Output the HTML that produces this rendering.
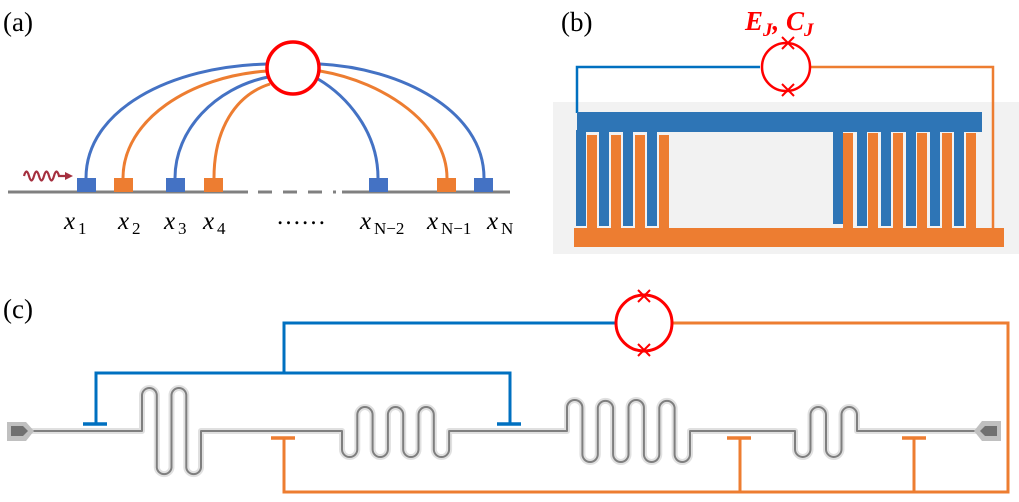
<!DOCTYPE html>
<html><head><meta charset="utf-8"><style>
html,body{margin:0;padding:0;background:#fff;}
svg{display:block;}
.lab{font-family:"Liberation Serif",serif;font-size:27px;fill:#000;}
.xv{font-family:"Liberation Serif",serif;font-style:italic;font-size:25px;fill:#000;}
.sub{font-family:"Liberation Serif",serif;font-size:17px;fill:#000;}
</style></head><body>
<svg width="1019" height="502" viewBox="0 0 1019 502" xmlns="http://www.w3.org/2000/svg">
<!-- (a) -->
<text class="lab" x="3" y="31">(a)</text>
<line x1="8" y1="192" x2="248" y2="192" stroke="#808080" stroke-width="3"/>
<line x1="258" y1="192" x2="336" y2="192" stroke="#808080" stroke-width="3" stroke-dasharray="14,11"/>
<line x1="342" y1="192" x2="510" y2="192" stroke="#808080" stroke-width="3"/>
<g fill="none" stroke-width="3">
<path d="M86,178 C86,110 170,66 268,64" stroke="#4472c4"/>
<path d="M123,178 C123,120 190,76 268,71" stroke="#ed7d31"/>
<path d="M175,178 C175,130 215,88 268,77" stroke="#4472c4"/>
<path d="M214,178 C214,130 235,95 270,84" stroke="#ed7d31"/>
<path d="M378,178 C378,130 345,95 318,79" stroke="#4472c4"/>
<path d="M447,178 C447,125 385,82 320,71" stroke="#ed7d31"/>
<path d="M484,178 C484,110 400,68 320,64" stroke="#4472c4"/>
</g>
<circle cx="293" cy="68" r="26" fill="#fff" stroke="#ff0000" stroke-width="3.5"/>
<g>
<rect x="77" y="178" width="19" height="14" fill="#4472c4"/>
<rect x="114" y="178" width="19" height="14" fill="#ed7d31"/>
<rect x="166" y="178" width="19" height="14" fill="#4472c4"/>
<rect x="204" y="178" width="19" height="14" fill="#ed7d31"/>
<rect x="369" y="178" width="19" height="14" fill="#4472c4"/>
<rect x="437" y="178" width="19" height="14" fill="#ed7d31"/>
<rect x="474" y="178" width="19" height="14" fill="#4472c4"/>
</g>
<path d="M24,176 q2.5,-9 5,0 t5,0 t5,0 t5,0 t5,0 t5,0 t5,0 h6" fill="none" stroke="#a5303f" stroke-width="2.2"/>
<polygon points="73,176 65,172 65,180" fill="#a5303f"/>
<text class="xv" x="64" y="229">x</text><text class="sub" x="78" y="234">1</text>
<text class="xv" x="118" y="229">x</text><text class="sub" x="132" y="234">2</text>
<text class="xv" x="164" y="229">x</text><text class="sub" x="178" y="234">3</text>
<text class="xv" x="203" y="229">x</text><text class="sub" x="217" y="234">4</text>
<text class="xv" x="276" y="224" style="font-style:normal">……</text>
<text class="xv" x="360" y="229">x</text><text class="sub" x="374" y="234">N−2</text>
<text class="xv" x="427" y="229">x</text><text class="sub" x="441" y="234">N−1</text>
<text class="xv" x="487" y="229">x</text><text class="sub" x="501" y="234">N</text>

<!-- (b) -->
<text class="lab" x="561" y="31">(b)</text>
<rect x="553" y="102" width="466" height="152" fill="#f2f2f2"/>
<path d="M760,67 H577 V113" fill="none" stroke="#0070c0" stroke-width="2.5"/>
<path d="M811,67 H993 V230" fill="none" stroke="#ed7d31" stroke-width="2.5"/>
<g fill="#ed7d31">
<rect x="587" y="135" width="10" height="95"/><rect x="611" y="135" width="10" height="95"/>
<rect x="635" y="135" width="10" height="95"/><rect x="659" y="135" width="10" height="95"/>
<rect x="843" y="133" width="10" height="97"/><rect x="868" y="133" width="10" height="97"/>
<rect x="893" y="133" width="10" height="97"/><rect x="917" y="133" width="10" height="97"/>
<rect x="942" y="133" width="10" height="97"/><rect x="966" y="133" width="10" height="97"/>
<rect x="574" y="228" width="430" height="19"/>
</g>
<g fill="#2e75b6">
<rect x="577" y="112" width="405" height="20"/>
<rect x="576" y="130" width="10" height="96"/><rect x="599" y="130" width="10" height="96"/>
<rect x="623" y="130" width="10" height="96"/><rect x="647" y="130" width="10" height="96"/>
<rect x="833" y="130" width="10" height="94"/><rect x="857" y="130" width="10" height="96"/>
<rect x="881" y="130" width="10" height="96"/><rect x="906" y="130" width="10" height="96"/>
<rect x="930" y="130" width="10" height="96"/><rect x="954" y="130" width="10" height="96"/>
</g>
<circle cx="786" cy="67" r="24" fill="none" stroke="#ff0000" stroke-width="2.5"/>
<path d="M782,37 l12,12 M794,37 l-12,12 M782,84 l12,12 M794,84 l-12,12" stroke="#ff0000" stroke-width="2"/>
<text x="745" y="30" style="font-family:'Liberation Serif',serif;font-weight:bold;font-style:italic;font-size:27px;fill:#ff0000">E<tspan font-size="19" dy="6">J</tspan><tspan dy="-6">, C</tspan><tspan font-size="19" dy="6">J</tspan></text>

<!-- (c) -->
<text class="lab" x="3" y="318">(c)</text>
<path d="M616,323 H284 V373" fill="none" stroke="#0070c0" stroke-width="3"/>
<path d="M96,424 V373 H510 V424" fill="none" stroke="#0070c0" stroke-width="3"/>
<path d="M83,424 H107 M497,424 H521" stroke="#0070c0" stroke-width="3.5"/>
<path d="M672,323 H1008 V492 H284 V438" fill="none" stroke="#ed7d31" stroke-width="3"/>
<path d="M740,492 V438 M914,492 V438" stroke="#ed7d31" stroke-width="3"/>
<path d="M271,438 H295 M727,438 H751 M902,438 H926" stroke="#ed7d31" stroke-width="3.5"/>
<circle cx="644" cy="323" r="28" fill="#fff" stroke="#ff0000" stroke-width="3"/>
<path d="M638,290 l12,12 M650,290 l-12,12 M638,344 l12,12 M650,344 l-12,12" stroke="#ff0000" stroke-width="2"/>
<path fill="none" stroke-linejoin="round" stroke="#e0e0e0" stroke-width="6" d="M30,431 H142 V395.4 A7.4,7.4 0 0 1 156.8,395.4 V467.6 A7.4,7.4 0 0 0 171.5,467.6 V395.4 A7.4,7.4 0 0 1 186.3,395.4 V467.6 A7.4,7.4 0 0 0 201,467.6 V431 H342 V449.4 A7.65,7.65 0 0 0 357.3,449.4 V414.7 A7.65,7.65 0 0 1 372.6,414.7 V449.4 A7.65,7.65 0 0 0 387.9,449.4 V414.7 A7.65,7.65 0 0 1 403.2,414.7 V449.4 A7.65,7.65 0 0 0 418.5,449.4 V414.7 A7.65,7.65 0 0 1 433.8,414.7 V449.4 A7.65,7.65 0 0 0 449.1,449.4 V431 H567 V407.7 A7.7,7.7 0 0 1 582.4,407.7 V454.3 A7.7,7.7 0 0 0 597.8,454.3 V407.7 A7.7,7.7 0 0 1 613.1,407.7 V454.3 A7.7,7.7 0 0 0 628.5,454.3 V407.7 A7.7,7.7 0 0 1 643.9,407.7 V454.3 A7.7,7.7 0 0 0 659.3,454.3 V407.7 A7.7,7.7 0 0 1 674.6,407.7 V454.3 A7.7,7.7 0 0 0 690,454.3 V431 H795 V449.25 A7.75,7.75 0 0 0 810.5,449.25 V414.75 A7.75,7.75 0 0 1 826,414.75 V449.25 A7.75,7.75 0 0 0 841.5,449.25 V414.75 A7.75,7.75 0 0 1 857,414.75 V431 H978"/>
<path fill="none" stroke-linejoin="round" stroke="#7f7f7f" stroke-width="2" d="M30,431 H142 V395.4 A7.4,7.4 0 0 1 156.8,395.4 V467.6 A7.4,7.4 0 0 0 171.5,467.6 V395.4 A7.4,7.4 0 0 1 186.3,395.4 V467.6 A7.4,7.4 0 0 0 201,467.6 V431 H342 V449.4 A7.65,7.65 0 0 0 357.3,449.4 V414.7 A7.65,7.65 0 0 1 372.6,414.7 V449.4 A7.65,7.65 0 0 0 387.9,449.4 V414.7 A7.65,7.65 0 0 1 403.2,414.7 V449.4 A7.65,7.65 0 0 0 418.5,449.4 V414.7 A7.65,7.65 0 0 1 433.8,414.7 V449.4 A7.65,7.65 0 0 0 449.1,449.4 V431 H567 V407.7 A7.7,7.7 0 0 1 582.4,407.7 V454.3 A7.7,7.7 0 0 0 597.8,454.3 V407.7 A7.7,7.7 0 0 1 613.1,407.7 V454.3 A7.7,7.7 0 0 0 628.5,454.3 V407.7 A7.7,7.7 0 0 1 643.9,407.7 V454.3 A7.7,7.7 0 0 0 659.3,454.3 V407.7 A7.7,7.7 0 0 1 674.6,407.7 V454.3 A7.7,7.7 0 0 0 690,454.3 V431 H795 V449.25 A7.75,7.75 0 0 0 810.5,449.25 V414.75 A7.75,7.75 0 0 1 826,414.75 V449.25 A7.75,7.75 0 0 0 841.5,449.25 V414.75 A7.75,7.75 0 0 1 857,414.75 V431 H978"/>
<polygon points="7,422 26,422 34,431 26,441 7,441" fill="#c0c0c0"/>
<polygon points="11,426 23,426 28,431 23,436 11,436" fill="#707070"/>
<polygon points="1001,421 982,421 974,431 982,441 1001,441" fill="#c0c0c0"/>
<polygon points="997,426 985,426 980,431 985,436 997,436" fill="#707070"/>
</svg>
</body></html>
